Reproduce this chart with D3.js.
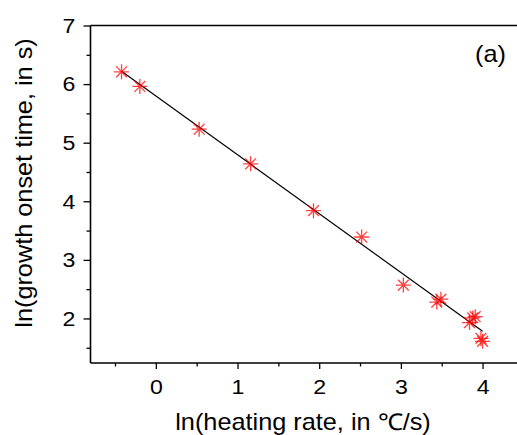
<!DOCTYPE html>
<html>
<head>
<meta charset="utf-8">
<script src="https://cdn.jsdelivr.net/npm/d3@7"></script>
<style>
  body { margin: 0; background: #fff; }
  svg text { font-family: "Liberation Sans", Arial, sans-serif; fill: #000; }
</style>
</head>
<body>
<div id="chart"></div>
<script>
// measured points, ln(heating rate) vs ln(growth onset time)
var lnRate = [-0.42, -0.196, 0.53, 1.16, 1.93, 2.52, 3.03, 3.44, 3.49, 3.84, 3.88, 3.91, 3.98, 4.0];
var lnOnset = [6.21, 5.96, 5.23, 4.64, 3.84, 3.39, 2.57, 2.28, 2.33, 1.93, 2.01, 2.03, 1.66, 1.61];

// linear fit end points
var fitX = [-0.42, 4.0];
var fitY = [6.22, 1.78];

var xTicks = [0, 1, 2, 3, 4];
var yTicks = [2, 3, 4, 5, 6, 7];
var xMinor = [-0.5, 0.5, 1.5, 2.5, 3.5];
var yMinor = [1.5, 2.5, 3.5, 4.5, 5.5, 6.5];

var width = 517, height = 435;
var plotLeft = 90.5, plotTop = 25.5, plotBottom = 363;
var stretch = "scale(1.1,1)";   // the source font is a bit wider than Liberation Sans

var svg = d3.select("#chart").append("svg")
    .attr("width", width)
    .attr("height", height);

// scales
var xScale = d3.scaleLinear()
    .domain([-0.8, 4.45])
    .range([plotLeft, plotLeft + 5.25 * 81.68]);

var yScale = d3.scaleLinear()
    .domain([1.24, 7])
    .range([plotBottom, plotTop]);

// frame line on top (right side falls outside the picture)
svg.append("line")
    .attr("x1", plotLeft).attr("x2", width + 5)
    .attr("y1", plotTop).attr("y2", plotTop)
    .attr("stroke", "#000").attr("stroke-width", 1.6);

// x axis
var xAxis = d3.axisBottom(xScale).tickValues(xTicks).tickSize(6).tickPadding(10)
    .tickFormat(d3.format("d"));
var gx = svg.append("g")
    .attr("transform", "translate(0," + plotBottom + ")")
    .call(xAxis);
gx.select(".domain").attr("d", "M" + plotLeft + ",0H" + (width + 5)).attr("stroke-width", 1.6);
gx.selectAll(".tick line").attr("stroke-width", 1.3);
gx.selectAll("text")
    .attr("transform", stretch)
    .style("font-size", "21px").style("font-family", "Liberation Sans, Arial, sans-serif");

var xAxisMinor = d3.axisBottom(xScale).tickValues(xMinor).tickSize(3.5).tickFormat("");
var gxm = svg.append("g")
    .attr("transform", "translate(0," + plotBottom + ")")
    .call(xAxisMinor);
gxm.select(".domain").remove();
gxm.selectAll(".tick line").attr("stroke-width", 1.3);

// y axis
var yAxis = d3.axisLeft(yScale).tickValues(yTicks).tickSize(7).tickPadding(6.8)
    .tickFormat(d3.format("d"));
var gy = svg.append("g")
    .attr("transform", "translate(" + plotLeft + ",0)")
    .call(yAxis);
gy.select(".domain").attr("d", "M0," + plotTop + "V" + plotBottom).attr("stroke-width", 1.6);
gy.selectAll(".tick line").attr("stroke-width", 1.3);
gy.selectAll("text")
    .attr("transform", stretch)
    .style("font-size", "21px").style("font-family", "Liberation Sans, Arial, sans-serif");

var yAxisMinor = d3.axisLeft(yScale).tickValues(yMinor).tickSize(4).tickFormat("");
var gym = svg.append("g")
    .attr("transform", "translate(" + plotLeft + ",0)")
    .call(yAxisMinor);
gym.select(".domain").remove();
gym.selectAll(".tick line").attr("stroke-width", 1.3);

// axis titles
svg.append("text")
    .attr("text-anchor", "middle")
    .attr("transform", "translate(" + [303, 430] + ") " + stretch)
    .style("font-size", "23px")
    .text("ln(heating rate, in \u2103/s)");

svg.append("text")
    .attr("text-anchor", "middle")
    .attr("transform", "translate(" + [32, 183] + ") rotate(-90) " + stretch)
    .style("font-size", "23px")
    .text("ln(growth onset time, in s)");

svg.append("text")
    .attr("text-anchor", "end")
    .attr("transform", "translate(" + [506, 62] + ") " + stretch)
    .style("font-size", "23px")
    .text("(a)");

// fit line
var line = d3.line()
    .x(function(d) { return xScale(d[0]); })
    .y(function(d) { return yScale(d[1]); });

svg.append("path")
    .datum(d3.zip(fitX, fitY))
    .attr("d", line)
    .attr("fill", "none")
    .attr("stroke", "#000")
    .attr("stroke-width", 1.2);

// asterisk markers
var r = 7.5;
var star = "M0," + (-r) + "V" + r + "M" + (-r) + ",0H" + r +
    "M" + (-r * 0.72) + "," + (-r * 0.72) + "L" + (r * 0.72) + "," + (r * 0.72) +
    "M" + (-r * 0.72) + "," + (r * 0.72) + "L" + (r * 0.72) + "," + (-r * 0.72);

svg.selectAll(".pt")
    .data(d3.zip(lnRate, lnOnset)).enter().append("path")
    .attr("class", "pt")
    .attr("transform", function(d) { return "translate(" + xScale(d[0]) + "," + yScale(d[1]) + ")"; })
    .attr("d", star)
    .attr("fill", "none")
    .attr("stroke", "#ff0000")
    .attr("stroke-opacity", 0.75)
    .attr("stroke-width", 1.3);
</script>
</body>
</html>
